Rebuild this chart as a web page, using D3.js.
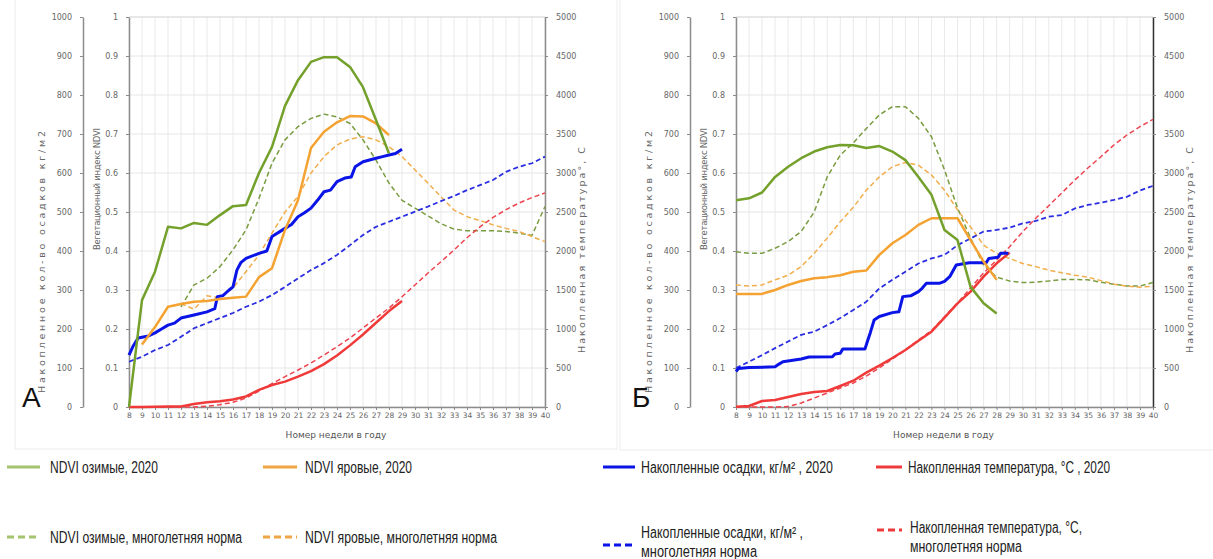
<!DOCTYPE html>
<html>
<head>
<meta charset="utf-8">
<script src="https://cdn.jsdelivr.net/npm/d3@7"></script>
<style>
  body { margin: 0; background: #fff; }
  svg { display: block; }
  .tick text { font-family: "DejaVu Sans", Verdana, sans-serif; fill: #666; }
  .legend text { font-family: "Liberation Sans", Arial, sans-serif; font-size: 16px; fill: #222; }
</style>
</head>
<body>
<svg id="chart" width="1213" height="559"></svg>
<script>
// weeks of the year on the x axis
const weeks = [8,9,10,11,12,13,14,15,16,17,18,19,20,21,22,23,24,25,26,27,28,29,30,31,32,33,34,35,36,37,38,39,40];

// ---- panel A ----
// NDVI, start week + weekly values
const A_winter2020 = [0,0.274,0.347,0.462,0.458,0.472,0.467,0.492,0.515,0.518,0.60,0.667,0.772,0.838,0.885,0.897,0.897,0.872,0.82,0.736,0.65]; // from wk 8
const A_spring2020 = [0.16,0.205,0.257,0.264,0.27,0.272,0.277,0.28,0.283,0.333,0.356,0.454,0.53,0.664,0.706,0.73,0.746,0.745,0.727,0.697]; // from wk 9
const A_winterNorm = [0.257,0.313,0.33,0.36,0.403,0.454,0.535,0.625,0.685,0.719,0.74,0.751,0.744,0.727,0.685,0.633,0.574,0.53,0.51,0.49,0.47,0.456,0.452,0.452,0.452,0.45,0.446,0.44,0.514]; // from wk 12
const A_springNorm = [0.265,0.251,0.285,0.28,0.305,0.347,0.39,0.446,0.5,0.54,0.6,0.642,0.672,0.687,0.693,0.685,0.667,0.642,0.608,0.574,0.539,0.505,0.488,0.478,0.467,0.458,0.45,0.437,0.424]; // from wk 12
// precipitation (kg/m2)
const A_precipNorm = [116,129,146,159,180,202,215,228,241,257,270,287,308,330,351,369,390,415,441,462,475,488,501,514,528,541,556,569,582,603,616,625,642]; // from wk 8
const A_precip2020 = [[8,133],[8.3,155],[8.7,177],[9.5,182],[10,190],[10.5,200],[11,210],[11.5,215],[12,228],[13,236],[14,244],[14.6,252],[14.8,283],[15.2,285],[15.7,300],[16,308],[16.3,351],[16.6,370],[17,381],[18,394],[18.6,400],[19,437],[20,458],[20.5,468],[21,488],[21.5,498],[22,510],[22.5,530],[23,552],[23.5,556],[24,578],[24.6,587],[25.1,590],[25.4,616],[26,629],[27,638],[27.5,642],[28,646],[28.5,650],[29,661]];
// accumulated temperature
const A_tempNorm = [0,0,0,0,0,0,10,30,60,115,205,300,389,474,564,667,773,884,1013,1141,1269,1414,1564,1718,1863,2013,2170,2310,2430,2530,2615,2685,2745]; // from wk 8
const A_temp2020 = [0,0,3,5,8,38,60,75,95,135,220,282,325,389,460,550,660,790,930,1080,1230,1360]; // from wk 8

// ---- panel B ----
const B_winter2020 = [0.53,0.535,0.55,0.59,0.616,0.638,0.655,0.666,0.672,0.671,0.664,0.669,0.655,0.633,0.59,0.544,0.454,0.428,0.308,0.266,0.24]; // from wk 8
const B_spring2020 = [0.29,0.29,0.29,0.30,0.313,0.323,0.33,0.333,0.338,0.347,0.35,0.39,0.42,0.441,0.467,0.484,0.484,0.484,0.428,0.373,0.326]; // from wk 8
const B_winterNorm = [0.398,0.394,0.394,0.407,0.424,0.45,0.5,0.59,0.646,0.677,0.714,0.749,0.77,0.77,0.74,0.693,0.608,0.51,0.433,0.364,0.333,0.323,0.319,0.32,0.323,0.327,0.327,0.326,0.32,0.315,0.31,0.31,0.319]; // from wk 8
const B_springNorm = [0.313,0.31,0.313,0.326,0.338,0.36,0.394,0.433,0.475,0.512,0.556,0.59,0.616,0.627,0.62,0.595,0.556,0.505,0.462,0.415,0.394,0.381,0.368,0.36,0.351,0.344,0.338,0.333,0.324,0.315,0.31,0.307,0.31]; // from wk 8
const B_precipNorm = [100,116,133,151,168,185,193,210,228,249,270,304,326,347,368,381,390,415,432,450,454,460,471,477,488,492,509,518,524,531,539,555,567]; // from wk 8
const B_precip2020 = [[8,91],[8.2,99],[9,101],[11,103],[11.3,110],[11.6,116],[13,123],[13.6,128],[15.4,129],[15.6,136],[16,138],[16.2,149],[17.9,149],[18.1,170],[18.3,190],[18.6,223],[19,232],[20,242],[20.5,244],[20.8,283],[21.4,285],[22,296],[22.3,305],[22.6,317],[23.6,317],[24,322],[24.4,334],[24.9,364],[25.9,370],[27.2,370],[27.4,381],[28.1,384],[28.3,394],[28.9,394]];
const B_tempNorm = [0,0,0,0,5,51,115,179,244,308,397,500,615,731,859,979,1158,1333,1526,1718,1885,2055,2247,2420,2580,2744,2910,3064,3209,3359,3487,3594,3688]; // from wk 8
const B_temp2020 = [4,13,77,90,128,166,192,205,269,337,440,530,628,731,850,966,1145,1329,1479,1671,1842,1979]; // from wk 8

const precipTicks = [0,100,200,300,400,500,600,700,800,900,1000];
const ndviTicks = [0,0.1,0.2,0.3,0.4,0.5,0.6,0.7,0.8,0.9,1];
const tempTicks = [0,500,1000,1500,2000,2500,3000,3500,4000,4500,5000];

const col = {
  green: "#74a02c", orange: "#f4a232", blue: "#0a14e6", red: "#f03a3a",
  greenD: "#7a9c40", orangeD: "#f2ad4c", blueD: "#2a2ee0", redD: "#ee4450"
};

var svg = d3.select("#chart");

// weekly values -> [week, value]
function pairs(start, vals) {
  return vals.map(function(v, i) { return [start + i, v]; });
}

function drawPanel(p) {
  var g = svg.append("g");
  var top = 17, bottom = 407;

  g.append("rect")
    .attr("x", p.boxX).attr("y", -2)
    .attr("width", p.boxW).attr("height", p.boxH)
    .attr("fill", "#fff").attr("stroke", "#ececec");

  var x = d3.scaleLinear().domain([8, 40]).range([p.x0, p.x1]);
  var yN = d3.scaleLinear().domain([0, 1]).range([bottom, top]);
  var yP = d3.scaleLinear().domain([0, 1000]).range([bottom, top]);
  var yT = d3.scaleLinear().domain([0, 5000]).range([bottom, top]);

  // grid
  g.append("g").selectAll("line").data(weeks).enter().append("line")
    .attr("x1", function(d) { return x(d); }).attr("x2", function(d) { return x(d); })
    .attr("y1", top).attr("y2", bottom)
    .attr("stroke", "#e9e9e9").attr("stroke-width", 1);
  g.append("g").selectAll("line").data(ndviTicks).enter().append("line")
    .attr("x1", p.x0).attr("x2", p.x1)
    .attr("y1", function(d) { return yN(d); }).attr("y2", function(d) { return yN(d); })
    .attr("stroke", function(d) { return d == 1 ? "#d0d0d0" : "#e6e6e6"; }).attr("stroke-width", 1);

  function styleAxis(a, fs) {
    a.selectAll(".domain").attr("stroke", "#8c8c8c").attr("stroke-width", 1.5);
    a.selectAll(".tick line").attr("stroke", "#8c8c8c");
    a.selectAll(".tick text").style("font-size", fs + "px");
  }

  var fmtInt = d3.format("d");
  var aP = g.append("g").attr("transform", "translate(" + p.xOuter + ",0)")
    .call(d3.axisLeft(yP).tickValues(precipTicks).tickSize(3).tickSizeOuter(0).tickPadding(8).tickFormat(fmtInt));
  styleAxis(aP, 8);
  var aN = g.append("g").attr("transform", "translate(" + p.x0 + ",0)")
    .call(d3.axisLeft(yN).tickValues(ndviTicks).tickSize(3).tickSizeOuter(0).tickPadding(8)
      .tickFormat(function(d) { return d == 0 || d == 1 ? d : d.toFixed(1); }));
  styleAxis(aN, 8);
  var aT = g.append("g").attr("transform", "translate(" + p.x1 + ",0)")
    .call(d3.axisRight(yT).tickValues(tempTicks).tickSize(3).tickSizeOuter(0).tickPadding(8).tickFormat(fmtInt));
  styleAxis(aT, 8);
  aT.selectAll(".domain").attr("stroke", p.rightAxisColor);
  var aX = g.append("g").attr("transform", "translate(0," + bottom + ")")
    .call(d3.axisBottom(x).tickValues(weeks).tickSize(3).tickSizeOuter(0).tickPadding(3));
  styleAxis(aX, 7.5);

  // axis titles
  function vTitle(tx, ty, txt, len, fs) {
    g.append("text")
      .attr("transform", "translate(" + tx + "," + ty + ") rotate(-90)")
      .attr("text-anchor", "middle")
      .attr("textLength", len).attr("lengthAdjust", "spacing")
      .style("font-family", "DejaVu Sans, Verdana, sans-serif")
      .style("font-size", fs + "px").style("fill", "#666")
      .text(txt);
  }
  vTitle(p.xOuter - 38, 262, "Накопленное кол-во осадков кг/м2", 262, 9.5);
  vTitle(p.x0 - 29, 189, "Вегетационный индекс NDVI", 122, 8.5);
  vTitle(p.x1 + 40, 250, "Накопленная температура°, С", 206, 9.5);

  g.append("text")
    .attr("x", (p.x0 + p.x1) / 2 - 1).attr("y", 438)
    .attr("text-anchor", "middle")
    .style("font-family", "DejaVu Sans, Verdana, sans-serif")
    .style("font-size", "9px").style("fill", "#555")
    .text("Номер недели в году");

  g.append("text")
    .attr("x", p.letterX).attr("y", 407)
    .style("font-family", "Liberation Sans, Arial, sans-serif")
    .style("font-size", "28px").style("fill", "#111")
    .text(p.letter);

  var lineN = d3.line().x(function(d) { return x(d[0]); }).y(function(d) { return yN(d[1]); });
  var lineP = d3.line().x(function(d) { return x(d[0]); }).y(function(d) { return yP(d[1]); });
  var lineT = d3.line().x(function(d) { return x(d[0]); }).y(function(d) { return yT(d[1]); });

  function path(data, gen, color, w, dash) {
    g.append("path")
      .datum(data)
      .attr("d", gen)
      .attr("fill", "none")
      .attr("stroke", color)
      .attr("stroke-width", w)
      .attr("stroke-linejoin", "round")
      .attr("stroke-dasharray", dash || null);
  }

  // norms (dashed)
  path(p.winterNorm, lineN, col.greenD, 1.5, "5,3");
  path(p.springNorm, lineN, col.orangeD, 1.5, "5,3");
  path(p.precipNorm, lineP, col.blueD, 1.8, "5,3");
  path(p.tempNorm, lineT, col.redD, 1.5, "5,3");
  // 2020 (solid)
  path(p.temp2020, lineT, col.red, 2.5);
  path(p.precip2020, lineP, col.blue, 3);
  path(p.spring2020, lineN, col.orange, 2.5);
  path(p.winter2020, lineN, col.green, 2.5);
}

drawPanel({
  boxX: 15, boxW: 602, boxH: 451,
  xOuter: 83, x0: 129, x1: 545, letter: "А", letterX: 22, rightAxisColor: "#8c8c8c",
  winter2020: pairs(8, A_winter2020), spring2020: pairs(9, A_spring2020),
  winterNorm: pairs(12, A_winterNorm), springNorm: pairs(12, A_springNorm),
  precipNorm: pairs(8, A_precipNorm), precip2020: A_precip2020,
  tempNorm: pairs(8, A_tempNorm), temp2020: pairs(8, A_temp2020)
});
drawPanel({
  boxX: 620, boxW: 600, boxH: 452,
  xOuter: 690, x0: 736, x1: 1153, letter: "Б", letterX: 632, rightAxisColor: "#333",
  winter2020: pairs(8, B_winter2020), spring2020: pairs(8, B_spring2020),
  winterNorm: pairs(8, B_winterNorm), springNorm: pairs(8, B_springNorm),
  precipNorm: pairs(8, B_precipNorm), precip2020: B_precip2020,
  tempNorm: pairs(8, B_tempNorm), temp2020: pairs(8, B_temp2020)
});

// legend: text widths
const legendItems = [
  { x1: 7, x2: 40, y: 467, tx: 50, color: "#a3c46c", dash: null, lines: ["NDVI озимые, 2020"], w: [108] },
  { x1: 263, x2: 297, y: 467, tx: 305, color: "#f0a443", dash: null, lines: ["NDVI яровые, 2020"], w: [107] },
  { x1: 603, x2: 635, y: 467, tx: 641, color: "#0a14e6", dash: null, lines: ["Накопленные осадки, кг/м² , 2020"], w: [192] },
  { x1: 876, x2: 902, y: 467, tx: 908, color: "#ee3a3a", dash: null, lines: ["Накопленная температура, °С , 2020"], w: [202] },
  { x1: 7, x2: 40, y: 537, tx: 50, color: "#a3c46c", dash: "7,4", lines: ["NDVI озимые, многолетняя норма"], w: [192] },
  { x1: 263, x2: 297, y: 537, tx: 305, color: "#f0a443", dash: "7,4", lines: ["NDVI яровые, многолетняя норма"], w: [192] },
  { x1: 603, x2: 634, y: 545, tx: 641, ty: 532, color: "#0a14e6", dash: "7,4", lines: ["Накопленные осадки, кг/м² ,", "многолетняя норма"], w: [162, 116] },
  { x1: 877, x2: 902, y: 530, tx: 910, ty: 527, color: "#ee3a3a", dash: "7,4", lines: ["Накопленная температура, °С,", "многолетняя норма"], w: [172, 112] }
];

var lg = svg.append("g").attr("class", "legend");
legendItems.forEach(function(d) {
  lg.append("line")
    .attr("x1", d.x1).attr("x2", d.x2).attr("y1", d.y).attr("y2", d.y)
    .attr("stroke", d.color).attr("stroke-width", 3)
    .attr("stroke-dasharray", d.dash);
  var ty = d.ty || d.y;
  d.lines.forEach(function(t, i) {
    lg.append("text")
      .attr("x", d.tx).attr("y", ty + i * 19)
      .attr("dy", "0.35em")
      .attr("textLength", d.w[i]).attr("lengthAdjust", "spacingAndGlyphs")
      .text(t);
  });
});
</script>
</body>
</html>
